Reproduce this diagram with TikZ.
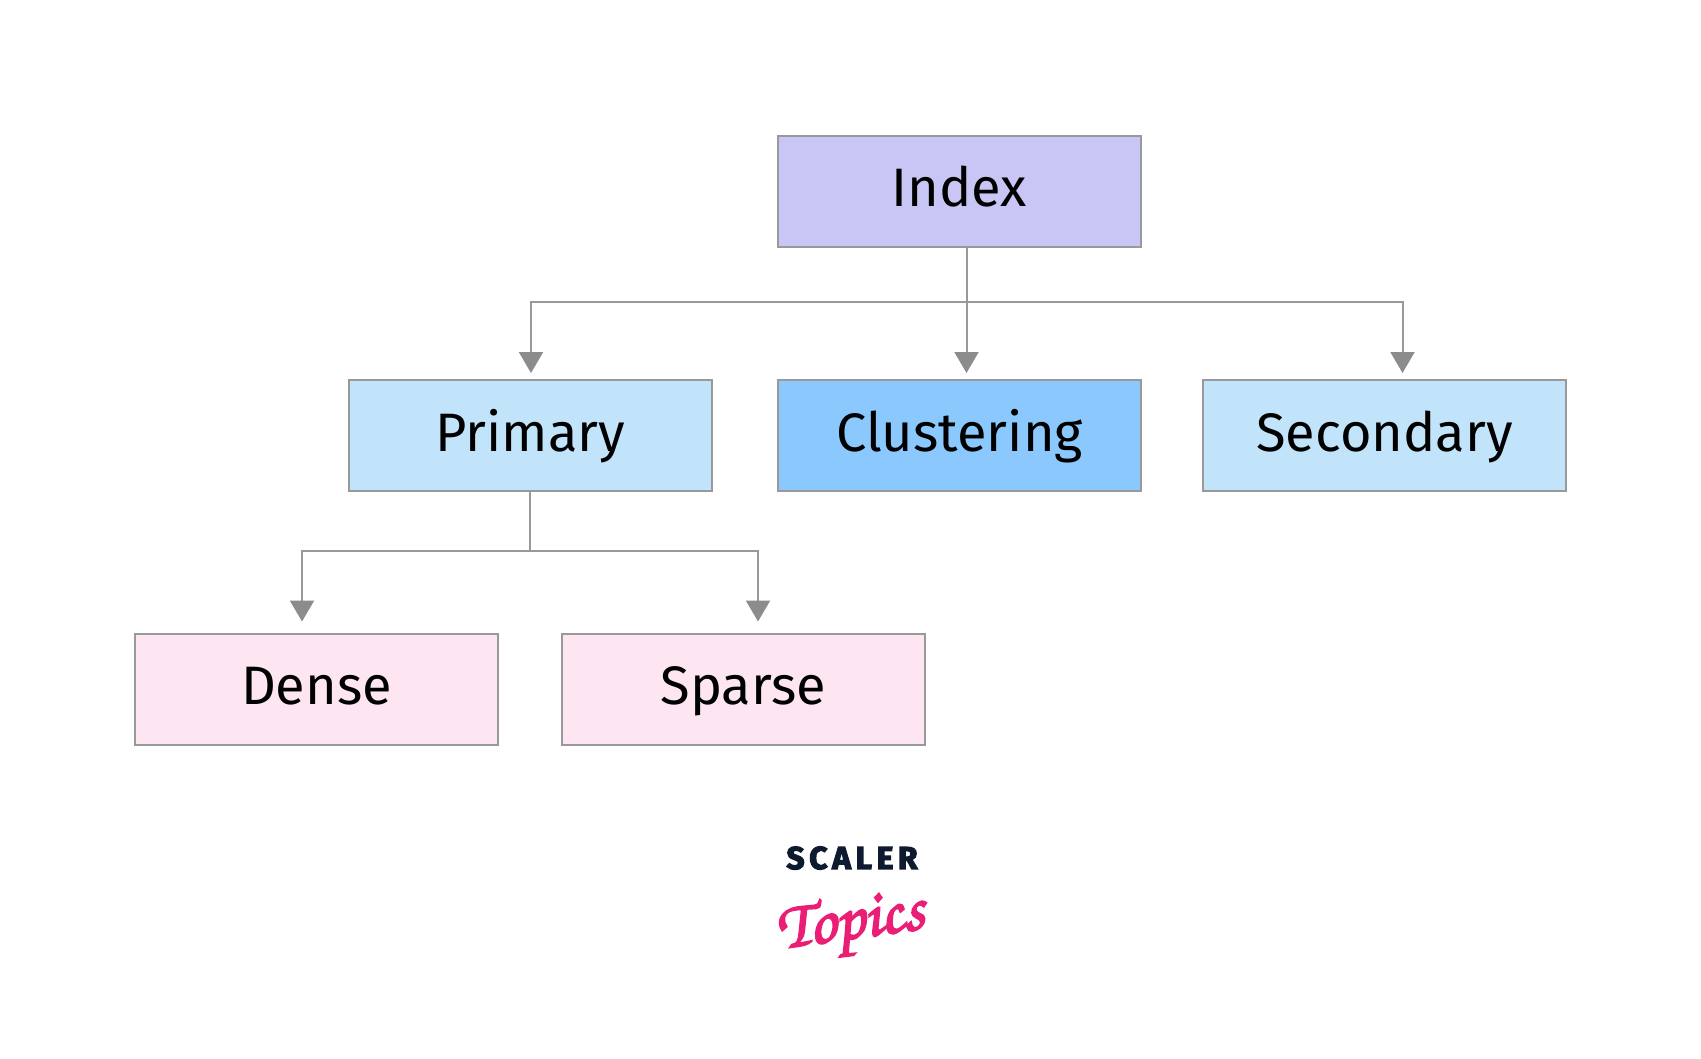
\documentclass[tikz,border=0pt]{standalone}
\usepackage{fontspec}
\setmainfont{Fira Sans}
\newcommand{\heavystroke}[3]{\special{pdf:code q 2 Tr #1 w #2 RG}#3\special{pdf:code Q}}
\begin{document}
\begin{tikzpicture}
        \usetikzlibrary{arrows.meta}
        \definecolor{indexpurple}{RGB}{200,198,245}
        \definecolor{levelblue}{RGB}{194,228,251}
        \definecolor{clusterblue}{RGB}{138,200,253}
        \definecolor{leafpink}{RGB}{253,230,241}
        \definecolor{linegray}{RGB}{153,153,153}
        \definecolor{tipgray}{RGB}{140,140,140}
        \definecolor{logonavy}{RGB}{14,26,47}
        \definecolor{logopink}{RGB}{233,30,116}
        \tikzset{
            box/.style={draw=linegray,line width=0.57pt,minimum width=3.63cm,minimum height=1.11cm,
                inner sep=0pt,font=\fontsize{15.4}{18}\selectfont,text height=1.9ex,text depth=0.2ex},
            link/.style={draw=linegray,line width=0.57pt,
                -{Triangle[length=0.21cm,width=0.24cm,color=tipgray]}}
        }

        \useasboundingbox (0,0) rectangle (17.01,-10.58);

        % boxes
        \node[box,fill=indexpurple] (index) at (9.595,-1.91) {Index};

        \node[box,fill=levelblue] (primary) at (5.30,-4.355) {Primary};
        \node[box,fill=clusterblue] (clustering) at (9.595,-4.355) {Clustering};
        \node[box,fill=levelblue] (secondary) at (13.845,-4.355) {Secondary};

        \node[box,fill=leafpink] (dense) at (3.165,-6.89) {Dense};
        \node[box,fill=leafpink] (sparse) at (7.435,-6.89) {Sparse};

        % connectors
        \coordinate (indexout) at ([xshift=0.07cm]index.south);
        \coordinate (indexbus) at ([yshift=-0.545cm]indexout);
        \draw[link,shorten >=0.06cm] (indexout) -- ([xshift=0.07cm]clustering.north);
        \draw[link,shorten >=0.06cm] (indexout) -- (indexbus) -| ([xshift=0.01cm]primary.north);
        \draw[link,shorten >=0.06cm] (indexout) -- (indexbus) -| ([xshift=0.18cm]secondary.north);

        \coordinate (primarybus) at ([yshift=-0.59cm]primary.south);
        \draw[link,shorten >=0.11cm] (primary.south) -- (primarybus) -| ([xshift=-0.145cm]dense.north);
        \draw[link,shorten >=0.11cm] (primary.south) -- (primarybus) -| ([xshift=0.145cm]sparse.north);

        % logo
        \node[text=logonavy,font=\bfseries\fontsize{9}{10}\selectfont\addfontfeatures{LetterSpace=15},inner sep=0pt]
            (scaler) at (8.52,-8.58) {\heavystroke{0.35}{0.055 0.102 0.184}{SCALER}};
        \node[text=logopink,font=\usefont{T1}{pzc}{mb}{it}\fontsize{19}{21}\selectfont,inner sep=0pt,rotate=8]
            (topics) at (8.51,-9.27) {\heavystroke{0.5}{0.914 0.118 0.455}{Topics}};
    \end{tikzpicture}
\end{document}
